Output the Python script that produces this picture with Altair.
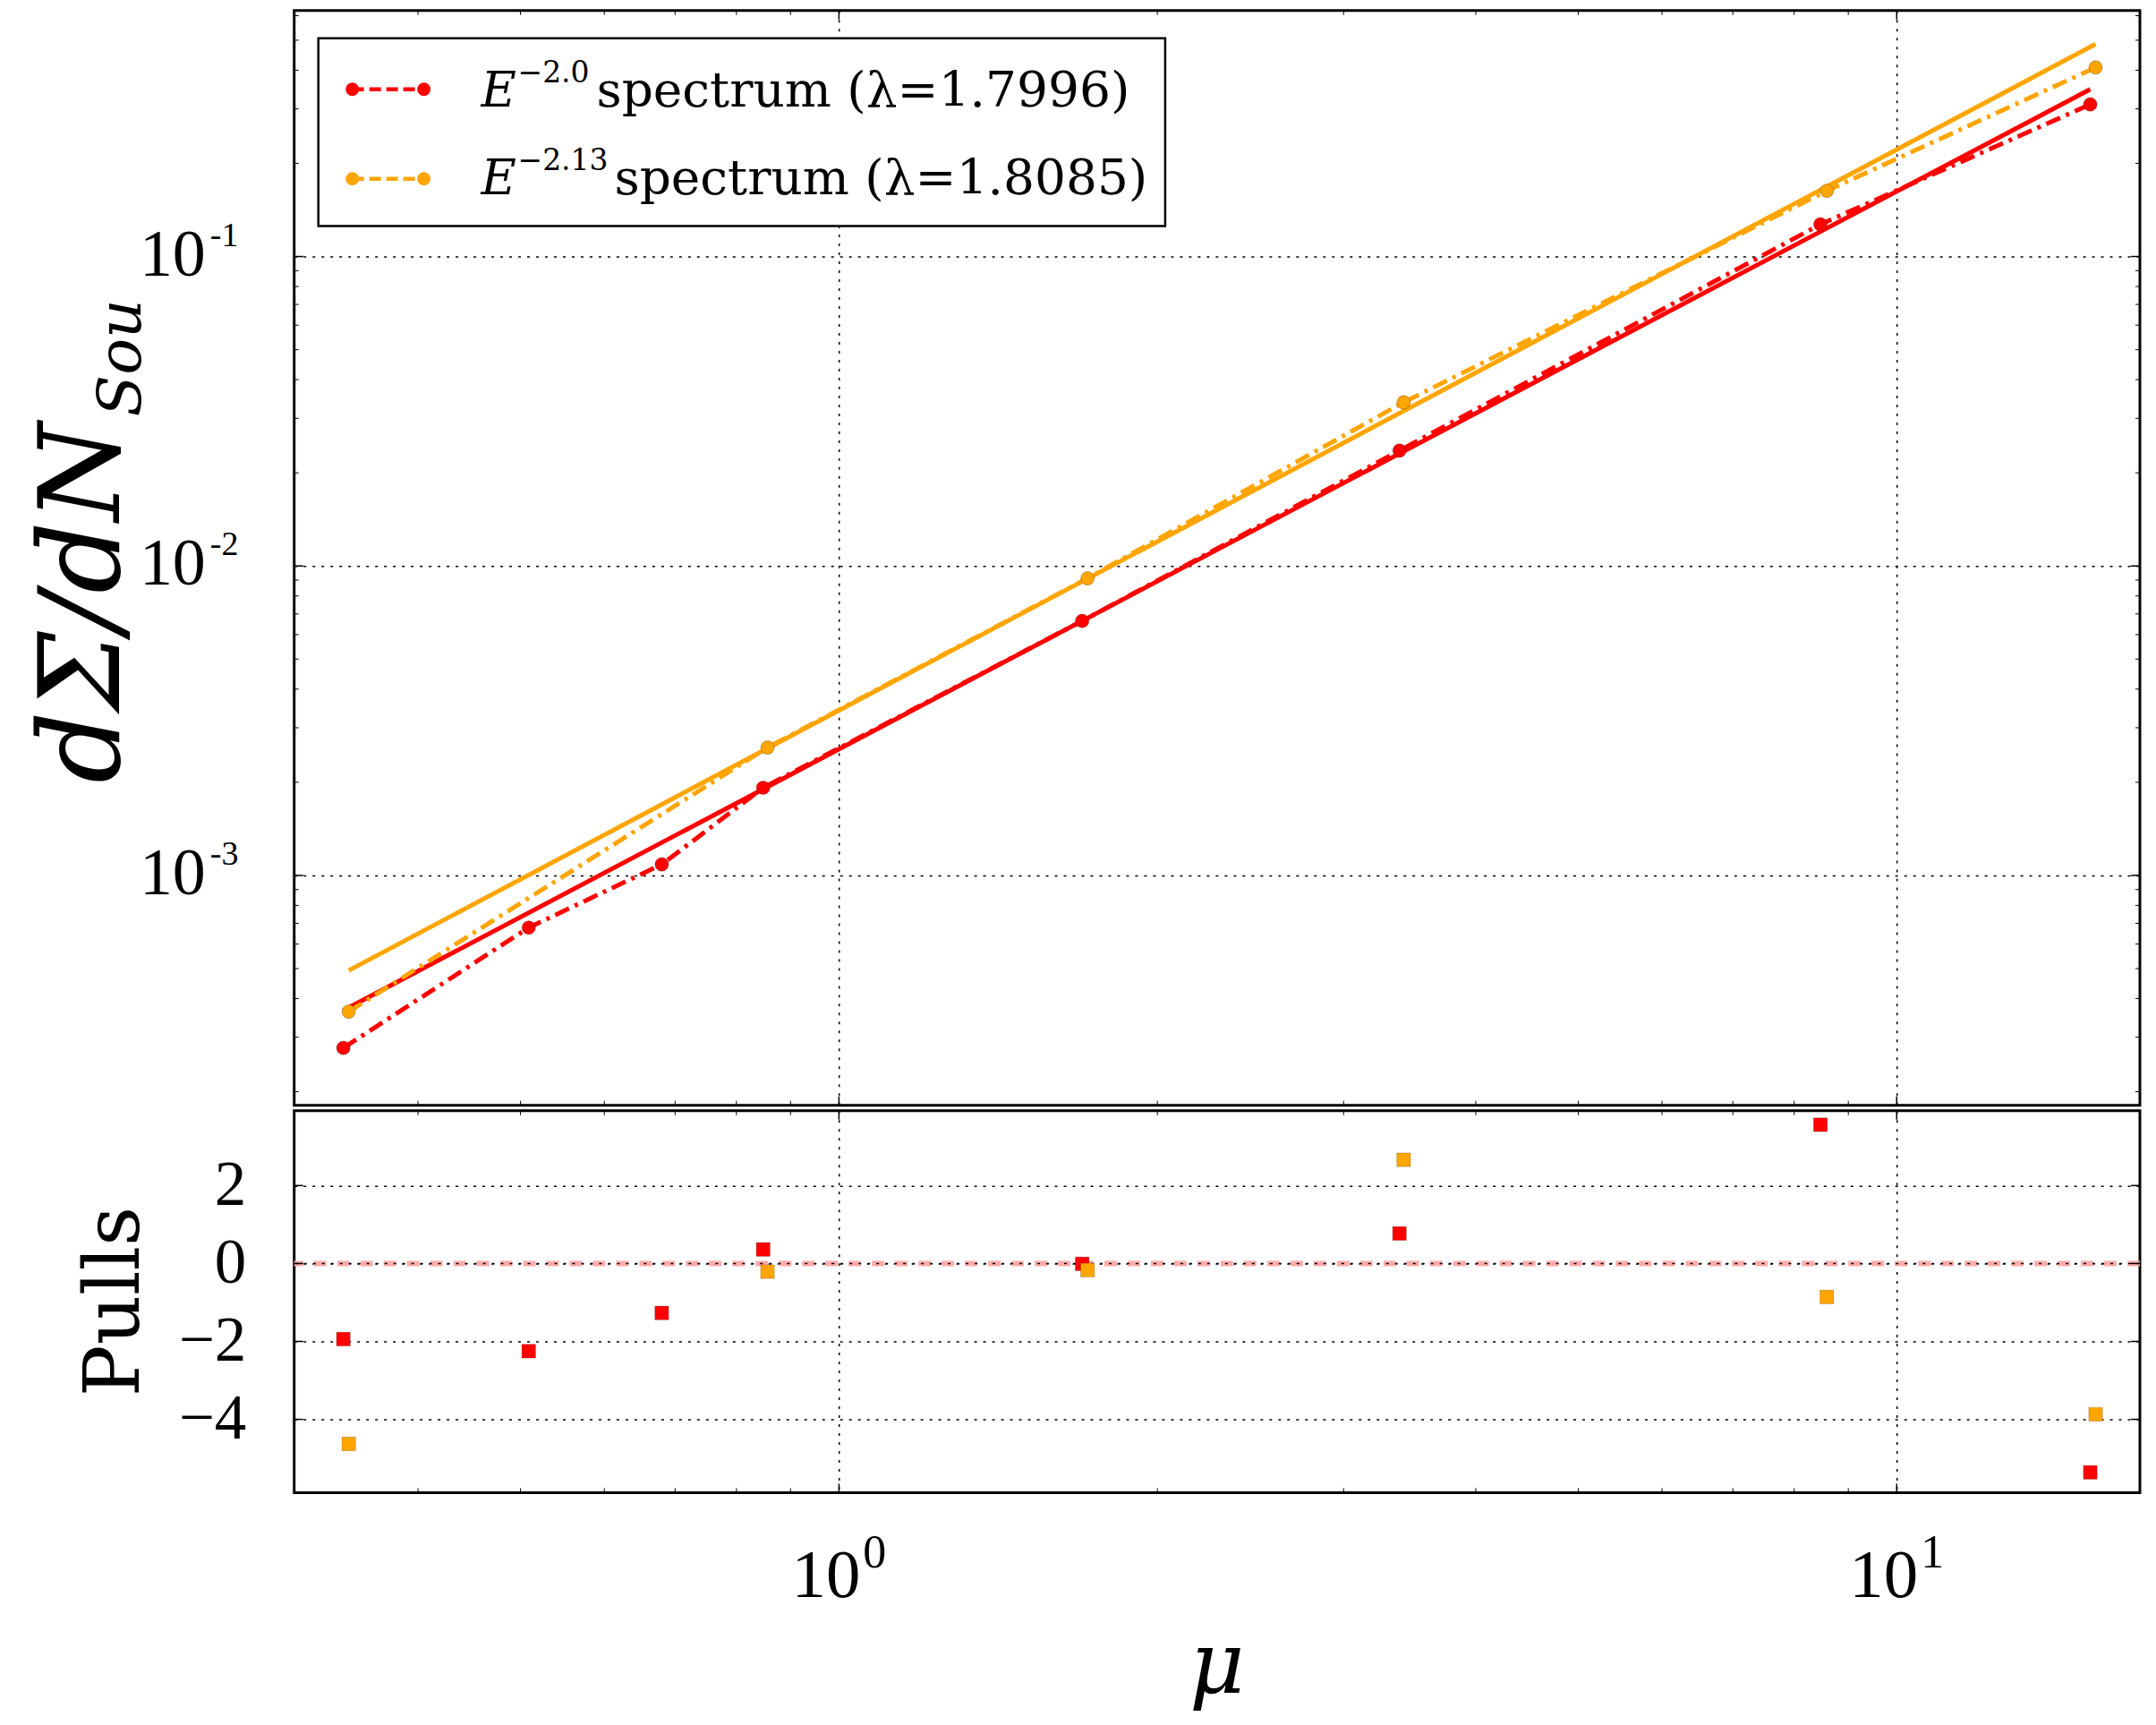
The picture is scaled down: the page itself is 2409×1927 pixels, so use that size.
import altair as alt
import pandas as pd

# ---------------- data ----------------
series_names = ["E-2.0", "E-2.13"]
series_colors = ["#ff0000", "#ffa500"]
legend_exponents = ["\u22122.0", "\u22122.13"]
legend_labels = ["spectrum (\u03bb=1.7996)", "spectrum (\u03bb=1.8085)"]

red_mu = [0.340, 0.509, 0.680, 0.848, 1.698, 3.388, 8.47, 15.24]
red_val = [2.77e-4, 6.78e-4, 1.085e-3, 1.92e-3, 6.64e-3, 0.0236, 0.127, 0.310]
red_pull = [-1.94, -2.25, -1.27, 0.36, -0.01, 0.77, 3.56, -5.36]

orange_mu = [0.344, 0.856, 1.718, 3.419, 8.59, 15.42]
orange_val = [3.63e-4, 2.59e-3, 9.12e-3, 0.0338, 0.163, 0.408]
orange_pull = [-4.63, -0.21, -0.17, 2.66, -0.86, -3.87]

red_fit_mu = [0.340, 15.24]
red_fit_val = [3.66e-4, 0.347]
orange_fit_mu = [0.344, 15.42]
orange_fit_val = [4.93e-4, 0.486]

x_major = [1, 10]
x_major_exp = ["0", "1"]
x_minor = [0.4, 0.5, 0.6, 0.7, 0.8, 0.9, 2, 3, 4, 5, 6, 7, 8, 9]
y_major = [1e-3, 1e-2, 1e-1]
y_major_exp = ["-3", "-2", "-1"]
y_minor = [2e-4, 3e-4, 4e-4, 5e-4, 6e-4, 7e-4, 8e-4, 9e-4,
           2e-3, 3e-3, 4e-3, 5e-3, 6e-3, 7e-3, 8e-3, 9e-3,
           2e-2, 3e-2, 4e-2, 5e-2, 6e-2, 7e-2, 8e-2, 9e-2,
           0.2, 0.3, 0.4, 0.5, 0.6]
pull_major = [-4, -2, 0, 2]

X_DOMAIN = [0.3055, 16.98]
Y_DOMAIN = [1.807e-4, 0.6234]
P_DOMAIN = [-5.88, 3.92]

W = 2064
H_MAIN = 1224
H_PULL = 427

# ---------------- tables ----------------
pts = pd.DataFrame({
    "mu": red_mu + orange_mu,
    "val": red_val + orange_val,
    "pull": red_pull + orange_pull,
    "series": [series_names[0]] * len(red_mu) + [series_names[1]] * len(orange_mu),
})
fits = pd.DataFrame({
    "mu": red_fit_mu + orange_fit_mu,
    "val": red_fit_val + orange_fit_val,
    "series": [series_names[0]] * 2 + [series_names[1]] * 2,
})
one = pd.DataFrame({"d": [0]})
ylab = pd.DataFrame({"val": y_major, "base": ["10"] * 3, "exp": y_major_exp})
xlab = pd.DataFrame({"mu": x_major, "base": ["10"] * 2, "exp": x_major_exp})

xs = alt.Scale(type="log", domain=X_DOMAIN, nice=False, zero=False)
ys = alt.Scale(type="log", domain=Y_DOMAIN, nice=False, zero=False)
ps = alt.Scale(type="linear", domain=P_DOMAIN, nice=False, zero=False)
cs = alt.Scale(domain=series_names, range=series_colors)

GRID = dict(grid=True, gridColor="black", gridDash=[3, 7], gridWidth=1.5, gridOpacity=1)
TICKFONT = "Liberation Serif"

ax_x_main = alt.Axis(values=x_major, labels=False, ticks=False, domain=False,
                     title=None, **GRID)
ax_x_pull = alt.Axis(values=x_major, labels=False, ticks=False, domain=False,
                     title=None, **GRID)
ax_y_main = alt.Axis(values=y_major, labels=False, ticks=False, domain=False,
                     title=None, **GRID)
ax_y_pull = alt.Axis(values=pull_major, ticks=False, domain=False, title=None,
                     labelFont=TICKFONT, labelColor="black",
                     format="d", labelFontSize=71, labelPadding=54, **GRID)


def X(axis):
    return alt.X("mu:Q", scale=xs, axis=axis)


def YM():
    return alt.Y("val:Q", scale=ys, axis=ax_y_main)


def YP():
    return alt.Y("pull:Q", scale=ps, axis=ax_y_pull)


COLOR = alt.Color("series:N", scale=cs, legend=None)


def x_tick_layers(vals, length, sw, h, axis):
    df = pd.DataFrame({"mu": vals})
    b = alt.Chart(df).mark_rule(color="black", strokeWidth=sw)
    return [
        b.encode(x=X(axis), y=alt.value(h), y2=alt.value(h - length)),
        b.encode(x=X(axis), y=alt.value(0), y2=alt.value(length)),
    ]


def y_tick_layers(vals, length, sw, field, yenc):
    df = pd.DataFrame({field: vals})
    b = alt.Chart(df).mark_rule(color="black", strokeWidth=sw)
    return [
        b.encode(y=yenc, x=alt.value(0), x2=alt.value(length)),
        b.encode(y=yenc, x=alt.value(W), x2=alt.value(W - length)),
    ]


# ---------------- main panel ----------------
fit_lines = alt.Chart(fits).mark_line(strokeWidth=5).encode(
    x=X(ax_x_main), y=YM(), color=COLOR, detail="series:N")
data_lines = alt.Chart(pts).mark_line(strokeWidth=5, strokeDash=[17, 7, 4, 7]).encode(
    x=X(ax_x_main), y=YM(), color=COLOR, detail="series:N")
data_pts = alt.Chart(pts).mark_circle(size=230, opacity=1, stroke="#00000040", strokeWidth=1).encode(
    x=X(ax_x_main), y=YM(), color=COLOR)

main_layers = [fit_lines, data_lines, data_pts]
main_layers += x_tick_layers(x_major, 10, 1.5, H_MAIN, ax_x_main)
main_layers += x_tick_layers(x_minor, 5, 1, H_MAIN, ax_x_main)
main_layers += y_tick_layers(y_major, 10, 1.5, "val", YM())
main_layers += y_tick_layers(y_minor, 5, 1, "val", YM())

# y tick labels 10^k (base + raised exponent), positioned through the y scale
main_layers.append(
    alt.Chart(ylab).mark_text(align="right", baseline="alphabetic", font=TICKFONT, fontSize=74,
                              dy=21, color="black").encode(
        y=YM(), x=alt.value(-99), text="base:N"))
main_layers.append(
    alt.Chart(ylab).mark_text(align="left", baseline="alphabetic", font=TICKFONT, fontSize=38,
                              dy=-12, color="black").encode(
        y=YM(), x=alt.value(-94), text="exp:N"))

# legend box (decoration)
LX0, LX1, LY0, LY1 = 27, 974, 31, 241
main_layers.append(
    alt.Chart(one).mark_rect(fill="white", stroke="black", strokeWidth=2.5).encode(
        x=alt.value(LX0), x2=alt.value(LX1), y=alt.value(LY0), y2=alt.value(LY1)))
row_y = [88, 188]
row_base = [107, 205]
text_x = [338, 358]
for i in range(2):
    main_layers.append(
        alt.Chart(one).mark_rule(color=series_colors[i], strokeWidth=4.5, strokeDash=[13, 6]).encode(
            x=alt.value(65), x2=alt.value(145), y=alt.value(row_y[i])))
    for mx in (65, 145):
        main_layers.append(
            alt.Chart(one).mark_circle(size=220, opacity=1, color=series_colors[i]).encode(
                x=alt.value(mx), y=alt.value(row_y[i])))
    main_layers.append(
        alt.Chart(one).mark_text(text="E", font="DejaVu Serif", fontStyle="italic", fontSize=54,
                                 align="left", baseline="alphabetic", color="black").encode(
            x=alt.value(209), y=alt.value(row_base[i])))
    main_layers.append(
        alt.Chart(one).mark_text(text=legend_exponents[i], font="DejaVu Serif", fontSize=33,
                                 align="left", baseline="alphabetic", color="black").encode(
            x=alt.value(250), y=alt.value(row_base[i] - 27)))
    main_layers.append(
        alt.Chart(one).mark_text(text=legend_labels[i], font="DejaVu Serif", fontSize=55,
                                 align="left", baseline="alphabetic", color="black").encode(
            x=alt.value(text_x[i]), y=alt.value(row_base[i])))

# y title of main panel
main_layers.append(
    alt.Chart(one).mark_text(text="d\u03a3/dN", font="DejaVu Serif", fontStyle="italic", fontSize=126,
                             angle=270, align="left", baseline="alphabetic", color="black").encode(
        x=alt.value(-196), y=alt.value(864)))
main_layers.append(
    alt.Chart(one).mark_text(text="Sou", font="DejaVu Serif", fontStyle="italic", fontSize=68,
                             angle=270, align="left", baseline="alphabetic", color="black").encode(
        x=alt.value(-172), y=alt.value(454)))

main = alt.layer(*main_layers).properties(width=W, height=H_MAIN)

# ---------------- pulls panel ----------------
zero_df = pd.DataFrame({"pull": [0]})
zero_pink = alt.Chart(zero_df).mark_rule(color="#ffaaaa", strokeWidth=6, strokeDash=[14, 12]).encode(
    y=YP())
zero_dot = alt.Chart(zero_df).mark_rule(color="black", strokeWidth=1.5, strokeDash=[3, 7]).encode(
    y=YP())
squares = alt.Chart(pts).mark_square(size=235, opacity=1, stroke="#00000030", strokeWidth=1).encode(
    x=X(ax_x_pull), y=YP(), color=COLOR)

pull_layers = [zero_pink, zero_dot, squares]
pull_layers += x_tick_layers(x_major, 10, 1.5, H_PULL, ax_x_pull)
pull_layers += x_tick_layers(x_minor, 5, 1, H_PULL, ax_x_pull)
pull_layers += y_tick_layers(pull_major, 10, 1.5, "pull", YP())

# x tick labels 10^k
pull_layers.append(
    alt.Chart(xlab).mark_text(align="right", baseline="alphabetic", font=TICKFONT, fontSize=77,
                              dx=24, color="black").encode(
        x=X(ax_x_pull), y=alt.value(H_PULL + 117), text="base:N"))
pull_layers.append(
    alt.Chart(xlab).mark_text(align="left", baseline="alphabetic", font=TICKFONT, fontSize=52,
                              dx=27, color="black").encode(
        x=X(ax_x_pull), y=alt.value(H_PULL + 84), text="exp:N"))

pull_layers.append(
    alt.Chart(one).mark_text(text="Pulls", font="DejaVu Serif", fontSize=86, angle=270,
                             align="center", baseline="alphabetic", color="black").encode(
        x=alt.value(-174), y=alt.value(H_PULL / 2)))
pull_layers.append(
    alt.Chart(one).mark_text(text="\u03bc", font="DejaVu Serif", fontStyle="italic", fontSize=95,
                             align="center", baseline="alphabetic", color="black").encode(
        x=alt.value(W / 2), y=alt.value(651)))

pulls = alt.layer(*pull_layers).properties(width=W, height=H_PULL)

chart = alt.vconcat(main, pulls, spacing=0).properties(
    padding={"left": 22, "top": 0, "right": 5, "bottom": 5},
    background="white",
).configure_view(
    stroke="black", strokeWidth=3
)

chart.save("out.html", embed_options={"renderer": "svg", "actions": False})
